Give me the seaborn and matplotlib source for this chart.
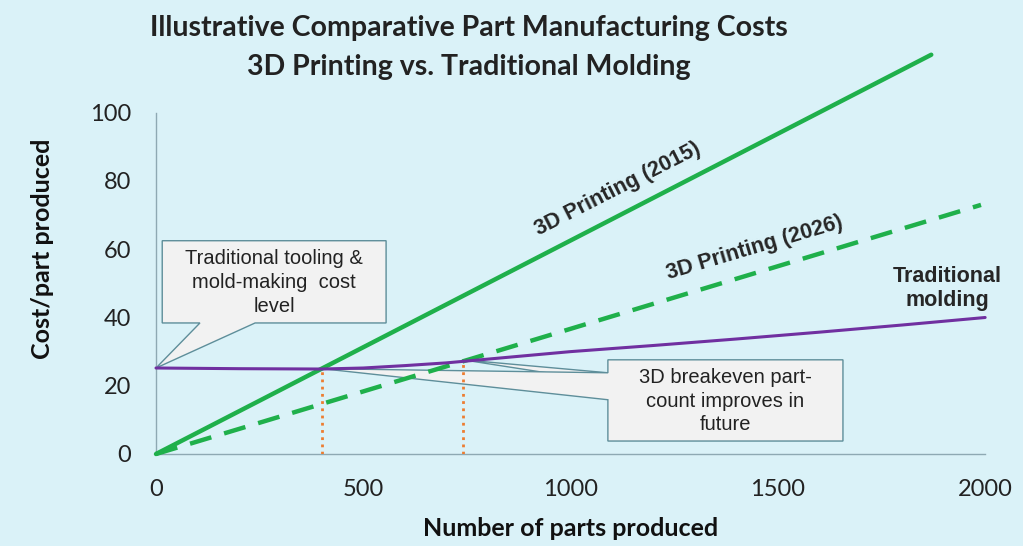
import numpy as np
import pandas as pd
import seaborn as sns
import matplotlib.pyplot as plt
from matplotlib.patches import Polygon

# chart data
parts_2015 = [0, 1870]
cost_2015 = [0, 117]
parts_2026 = [0, 1990]
cost_2026 = [0, 73]
parts_mold = [0, 200, 400, 500, 600, 700, 800, 900, 1000, 1200, 1400, 1600, 1800, 2000]
cost_mold = [25.2, 25.0, 24.9, 25.2, 25.9, 26.7, 27.8, 28.9, 30.0, 31.8, 33.7, 35.7, 37.8, 40.0]
breakeven_parts = [400, 740]
breakeven_cost = [25.0, 27.6]
x_ticks = [0, 500, 1000, 1500, 2000]
y_ticks = [0, 20, 40, 60, 80, 100]

bg = '#DAF2F8'
green = '#1FB04B'
purple = '#7030A0'
orange = '#ED7D31'
spine_col = '#8EA9B3'
box_fill = '#F2F2F2'
box_edge = '#5E8E9A'

sns.set_style('white')
plt.rcParams['font.family'] = ['Lato', 'DejaVu Sans']

fig = plt.figure(figsize=(10.23, 5.46), dpi=100, facecolor=bg)
ax = fig.add_axes([0.1525, 0.1685, 0.8105, 0.75])
ax.set_facecolor(bg)

df15 = pd.DataFrame({'parts': parts_2015, 'cost': cost_2015})
df26 = pd.DataFrame({'parts': parts_2026, 'cost': cost_2026})
dfm = pd.DataFrame({'parts': parts_mold, 'cost': cost_mold})

sns.lineplot(data=df15, x='parts', y='cost', ax=ax, color=green, lw=3.2, zorder=4)
sns.lineplot(data=df26, x='parts', y='cost', ax=ax, color=green, lw=3.2, zorder=4)
ax.lines[-1].set_dashes([5, 3])
sns.lineplot(data=dfm, x='parts', y='cost', ax=ax, color=purple, lw=2.2, zorder=4)
for ln in ax.lines:
    ln.set_clip_on(False)

for bx, by in zip(breakeven_parts, breakeven_cost):
    ax.plot([bx, bx], [0, by], color=orange, lw=2, ls=(0, (1, 1.6)), zorder=3)

# callout 1: tooling cost level
c1 = Polygon([(15, 62.5), (555, 62.5), (555, 38.4), (239, 38.4), (0, 25.2),
              (106, 38.4), (15, 38.4)], closed=True, fc=box_fill, ec=box_edge, lw=1, zorder=2)
ax.add_patch(c1)
ax.text(285, 50.3, 'Traditional tooling &\nmold-making  cost\nlevel', ha='center', va='center',
        fontsize=14.5, family='Liberation Sans', color='#222222', linespacing=1.32, zorder=5)

# callout 2: breakeven improves
c2b = Polygon([(1090, 23.8), (740, 27.6), (1090, 21.0)], closed=True,
              fc=box_fill, ec=box_edge, lw=1, zorder=2)
ax.add_patch(c2b)
c2 = Polygon([(1090, 27.6), (1657, 27.6), (1657, 3.8), (1090, 3.8), (1090, 15.9),
              (400, 25.0), (1090, 23.8)], closed=True, fc=box_fill, ec=box_edge, lw=1, zorder=2)
ax.add_patch(c2)
ax.text(1373, 15.5, '3D breakeven part-\ncount improves in\nfuture', ha='center', va='center',
        fontsize=14.5, family='Liberation Sans', color='#222222', linespacing=1.32, zorder=5)

# line labels
ax.text(1115, 77.5, '3D Printing (2015)', rotation=27, ha='center', va='center',
        fontsize=15.5, fontweight='bold', family='Liberation Sans', zorder=5)
ax.text(1445, 60.5, '3D Printing (2026)', rotation=16.5, ha='center', va='center',
        fontsize=15.5, fontweight='bold', family='Liberation Sans', zorder=5)
ax.text(1908, 48.4, 'Traditional\nmolding', ha='center', va='center', multialignment='center',
        fontsize=15.5, fontweight='bold', family='Liberation Sans', linespacing=1.2, zorder=5)

ax.set_xlim(0, 2000)
ax.set_ylim(0, 120)
ax.set_xticks(x_ticks)
ax.set_yticks(y_ticks)
ax.tick_params(axis='both', length=0, labelsize=17, colors='#222222')
ax.tick_params(axis='x', pad=18)
ax.tick_params(axis='y', pad=18)
for s in ['top', 'right']:
    ax.spines[s].set_visible(False)
for s in ['left', 'bottom']:
    ax.spines[s].set_color(spine_col)
    ax.spines[s].set_linewidth(1)
ax.spines['left'].set_bounds(0, 100)

ax.set_xlabel('Number of parts produced', fontsize=18, fontweight='bold', labelpad=12, color='#111111')
ax.set_ylabel('Cost/part produced', fontsize=18, fontweight='bold', labelpad=26, color='#111111')

fig.text(0.458, 0.948, 'Illustrative Comparative Part Manufacturing Costs', ha='center', va='center',
         fontsize=20.5, fontweight='bold', color='#222222')
fig.text(0.458, 0.878, '3D Printing vs. Traditional Molding', ha='center', va='center',
         fontsize=20.5, fontweight='bold', color='#222222')

fig.savefig('out.png', dpi=100, facecolor=bg)
